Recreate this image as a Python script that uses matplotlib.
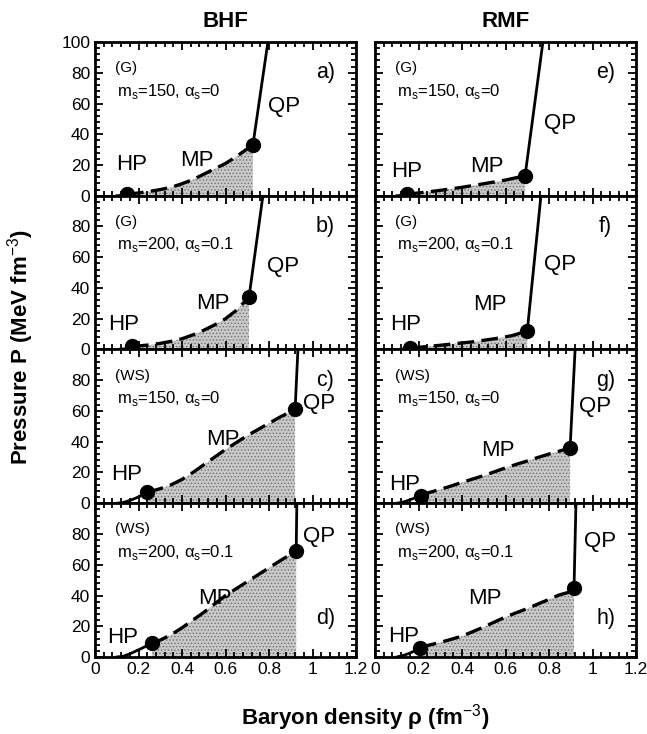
import numpy as np
import matplotlib
matplotlib.use("Agg")
import matplotlib.pyplot as plt
from matplotlib.ticker import MultipleLocator, FuncFormatter

plt.rcParams['font.family'] = ['Liberation Sans', 'DejaVu Sans']
plt.rcParams['mathtext.fontset'] = 'custom'
plt.rcParams['mathtext.rm'] = 'Liberation Sans'
plt.rcParams['hatch.linewidth'] = 0.6

# panels: left column BHF (a-d), right column RMF (e-h)
panels = ['a', 'b', 'c', 'd', 'e', 'f', 'g', 'h']
models = ['(G)', '(G)', '(WS)', '(WS)', '(G)', '(G)', '(WS)', '(WS)']
params = ['m$_\\mathregular{s}$=150, α$_\\mathregular{s}$=0',
          'm$_\\mathregular{s}$=200, α$_\\mathregular{s}$=0.1',
          'm$_\\mathregular{s}$=150, α$_\\mathregular{s}$=0',
          'm$_\\mathregular{s}$=200, α$_\\mathregular{s}$=0.1'] * 2

# hadronic phase (solid, up to first dot)
hp_x = [[0.10, 0.125, 0.147], [0.10, 0.14, 0.17],
        [0.10, 0.13, 0.16, 0.19, 0.22, 0.239],
        [0.10, 0.13, 0.16, 0.19, 0.22, 0.262],
        [0.10, 0.125, 0.147], [0.10, 0.13, 0.16],
        [0.10, 0.13, 0.16, 0.19, 0.21],
        [0.10, 0.13, 0.16, 0.19, 0.207]]
hp_y = [[0, 0.3, 1], [0, 0.5, 2],
        [0, 0.5, 1.8, 3.5, 5.5, 7],
        [0, 0.5, 2, 4, 6, 9],
        [0, 0.3, 1], [0, 0.3, 1],
        [0, 0.8, 2.2, 3.8, 5],
        [0, 1, 2.5, 4.5, 6]]

# mixed phase (dashed, shaded below)
mp_x = [[0.147, 0.2, 0.25, 0.3, 0.35, 0.4, 0.45, 0.5, 0.55, 0.6, 0.65, 0.7, 0.726],
        [0.17, 0.2, 0.25, 0.3, 0.35, 0.4, 0.45, 0.5, 0.55, 0.6, 0.65, 0.708],
        [0.239, 0.3, 0.35, 0.4, 0.45, 0.5, 0.55, 0.6, 0.65, 0.7, 0.75, 0.8, 0.85, 0.92],
        [0.262, 0.3, 0.35, 0.4, 0.45, 0.5, 0.55, 0.6, 0.65, 0.7, 0.75, 0.8, 0.85, 0.925],
        [0.147, 0.2, 0.3, 0.4, 0.5, 0.6, 0.69],
        [0.16, 0.25, 0.35, 0.45, 0.55, 0.63, 0.70],
        [0.21, 0.25, 0.3, 0.35, 0.4, 0.45, 0.5, 0.55, 0.6, 0.65, 0.7, 0.75, 0.8, 0.85, 0.897],
        [0.207, 0.25, 0.3, 0.35, 0.4, 0.45, 0.5, 0.55, 0.6, 0.65, 0.7, 0.75, 0.8, 0.85, 0.915]]
mp_y = [[1, 1.8, 2.8, 4, 5.5, 7.8, 10.5, 14, 17.5, 21, 25.5, 30.5, 33],
        [2, 2.3, 3, 4, 5.3, 7, 9.5, 12.5, 16, 20, 25.5, 34],
        [7, 9.5, 12, 15.5, 20, 25, 30, 35, 39.5, 44, 48, 52, 56, 61],
        [9, 11, 14.5, 19, 24, 29, 34.5, 40, 44.5, 49, 53.5, 58, 62.5, 69],
        [1, 1.8, 3.5, 5.5, 7.8, 10.2, 13],
        [1, 2, 3.5, 5, 7, 9, 12],
        [5, 7, 9, 11.2, 13.6, 15.8, 18, 20.5, 23, 25.3, 27.5, 29.8, 32, 34, 36],
        [6, 7.8, 9.5, 11.5, 13.6, 16.5, 19.5, 22.8, 26, 28.8, 31.5, 34.5, 37.5, 40.5, 43]]

# quark phase (solid, from second dot)
qp_x = [[0.726, 0.795], [0.708, 0.772], [0.92, 0.933], [0.925, 0.928],
        [0.69, 0.772], [0.70, 0.763], [0.897, 0.92], [0.915, 0.924]]
qp_y = [[33, 100], [34, 100], [61, 100], [69, 100],
        [13, 100], [12, 100], [36, 100], [45, 100]]

# label positions (data coords)
hp_lab = [(0.17, 20), (0.13, 16), (0.147, 19), (0.125, 13),
          (0.147, 16), (0.14, 16), (0.138, 12), (0.13, 13.6)]
mp_lab = [(0.47, 23), (0.54, 30), (0.59, 41.5), (0.55, 38),
          (0.515, 19), (0.53, 29), (0.565, 34), (0.505, 38)]
qp_lab = [(0.87, 58), (0.865, 54), (1.03, 65), (1.03, 78.5),
          (0.85, 47), (0.85, 55), (1.01, 63), (1.035, 75)]
letter_y = [80, 80, 80, 25, 80, 80, 80, 25]

col_titles = ['BHF', 'RMF']

fig = plt.figure(figsize=(6.47, 7.34), dpi=100)
left0 = [95 / 647, 375 / 647]
w = 261 / 647
top = 1 - 42 / 734
h = (615 / 734) / 4

for i, p in enumerate(panels):
    col = i // 4
    row = i % 4
    ax = fig.add_axes([left0[col], top - (row + 1) * h, w, h])
    ax.set_xlim(0, 1.2)
    ax.set_ylim(0, 100)

    ax.fill_between(mp_x[i], 0, mp_y[i], facecolor='#c9c9c9', edgecolor='#707070',
                    hatch='.....', linewidth=0, zorder=1)
    ax.plot(hp_x[i], hp_y[i], color='black', lw=2, zorder=3)
    ax.plot(mp_x[i], mp_y[i], color='black', lw=2.4, dashes=(5, 2.2), zorder=3)
    ax.plot(qp_x[i], qp_y[i], color='black', lw=2, zorder=3)
    ax.plot([hp_x[i][-1], qp_x[i][0]], [hp_y[i][-1], qp_y[i][0]], 'o',
            color='black', ms=10, zorder=4)

    ax.text(*hp_lab[i], 'HP', fontsize=16, ha='center', va='center', zorder=5)
    ax.text(*mp_lab[i], 'MP', fontsize=16, ha='center', va='center', zorder=5)
    ax.text(*qp_lab[i], 'QP', fontsize=16, ha='center', va='center', zorder=5)
    ax.text(1.06, letter_y[i], p + ')', fontsize=15.5, ha='center', va='center')
    ax.text(0.09, 83, models[i], fontsize=11, ha='left', va='center')
    ax.text(0.10, 68, params[i], fontsize=12, ha='left', va='center')

    ax.xaxis.set_major_locator(MultipleLocator(0.2))
    ax.xaxis.set_minor_locator(MultipleLocator(0.04))
    ax.yaxis.set_major_locator(MultipleLocator(20))
    ax.yaxis.set_minor_locator(MultipleLocator(4))
    ax.tick_params(which='both', direction='in', top=True, right=True,
                   width=1.3, labelsize=12.5)
    ax.tick_params(which='major', length=6)
    ax.tick_params(which='minor', length=3.5)
    for s in ax.spines.values():
        s.set_linewidth(2)

    if row == 3:
        ax.xaxis.set_major_formatter(FuncFormatter(lambda v, pos: f"{v:g}"))
    else:
        ax.set_xticklabels([])
    if col == 0:
        if row == 0:
            ax.yaxis.set_major_formatter(FuncFormatter(lambda v, pos: f"{v:g}"))
        else:
            ax.yaxis.set_major_formatter(
                FuncFormatter(lambda v, pos: "" if v >= 99 else f"{v:g}"))
    else:
        ax.set_yticklabels([])

    if row == 0:
        ax.set_title(col_titles[col], fontsize=16, fontweight='bold', pad=11)

fig.text(0.565, 0.022, 'Baryon density ρ (fm$^{-3}$)', fontsize=16,
         fontweight='bold', ha='center', va='center')
fig.text(0.032, 0.527, 'Pressure P (MeV fm$^{-3}$)', fontsize=16,
         fontweight='bold', ha='center', va='center', rotation=90)

plt.savefig('out.png', dpi=100)
